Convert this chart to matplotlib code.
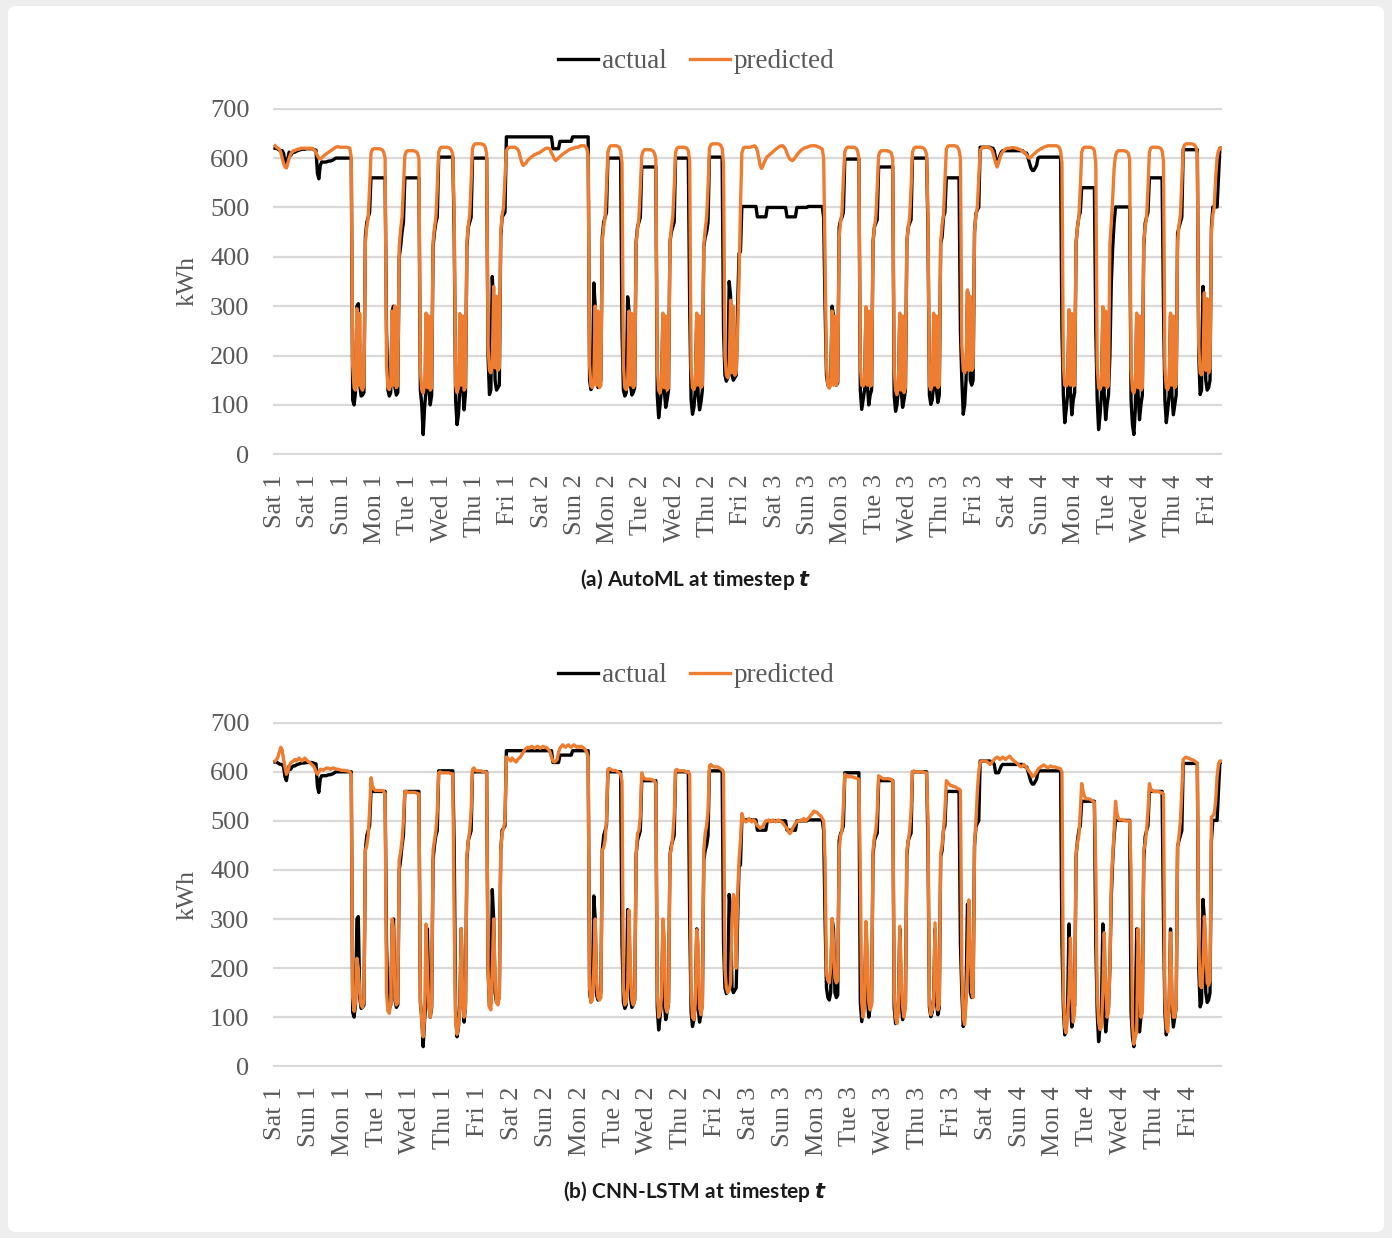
import matplotlib.pyplot as plt
import numpy as np
from matplotlib.patches import FancyBboxPatch

# hourly load, 28 days (Sat 1 .. Fri 4), one row = one day
actual_kwh = [
    620, 620, 618, 616, 615, 615, 610, 590, 582, 600, 612, 605, 610, 612, 612, 614, 615, 616, 617, 618, 618, 618, 619, 619,  # Sat 1
    619, 619, 619, 618, 617, 616, 570, 558, 585, 592, 592, 592, 592, 593, 594, 594, 595, 596, 598, 600, 600, 600, 600, 600,  # Sun 1
    600, 600, 600, 600, 600, 600, 600, 110, 100, 125, 300, 305, 140, 118, 120, 125, 440, 470, 480, 490, 560, 560, 560, 560,  # Mon 1
    560, 560, 560, 560, 560, 560, 560, 250, 130, 118, 125, 290, 300, 135, 120, 125, 400, 420, 450, 470, 560, 560, 560, 560,  # Tue 1
    560, 560, 560, 560, 560, 560, 560, 130, 100, 40, 95, 130, 280, 135, 100, 120, 420, 450, 470, 480, 602, 602, 602, 602,  # Wed 1
    602, 602, 602, 602, 602, 602, 602, 450, 110, 60, 80, 130, 280, 140, 90, 125, 420, 460, 470, 480, 600, 600, 600, 600,  # Thu 1
    600, 600, 600, 600, 600, 600, 600, 200, 121, 130, 360, 300, 150, 130, 135, 140, 440, 481, 485, 490, 643, 643, 643, 643,  # Fri 1
    643, 643, 643, 643, 643, 643, 643, 643, 643, 643, 643, 643, 643, 643, 643, 643, 643, 643, 643, 643, 643, 643, 643, 643,  # Sat 2
    643, 643, 643, 643, 643, 619, 619, 619, 619, 619, 634, 634, 634, 634, 634, 634, 634, 634, 634, 643, 643, 643, 643, 643,  # Sun 2
    643, 643, 643, 643, 643, 643, 643, 150, 131, 140, 347, 300, 145, 135, 140, 150, 440, 470, 480, 490, 600, 600, 600, 600,  # Mon 2
    600, 600, 600, 600, 600, 600, 250, 130, 118, 125, 319, 290, 140, 120, 125, 135, 430, 460, 470, 480, 582, 582, 582, 582,  # Tue 2
    582, 582, 582, 582, 582, 582, 582, 120, 74, 100, 130, 280, 130, 95, 110, 130, 430, 450, 460, 470, 600, 600, 600, 600,  # Wed 2
    600, 600, 600, 600, 600, 600, 300, 110, 81, 95, 130, 280, 120, 90, 105, 130, 420, 440, 450, 470, 602, 602, 602, 602,  # Thu 2
    602, 602, 602, 602, 602, 602, 250, 160, 148, 155, 350, 320, 160, 150, 155, 160, 300, 407, 410, 502, 502, 502, 502, 502,  # Fri 2
    502, 502, 502, 502, 502, 502, 481, 481, 481, 481, 481, 481, 481, 500, 500, 500, 500, 500, 500, 500, 500, 500, 500, 500,  # Sat 3
    500, 500, 500, 481, 481, 481, 481, 481, 481, 481, 500, 500, 500, 500, 500, 500, 500, 500, 502, 502, 502, 502, 502, 502,  # Sun 3
    502, 502, 502, 502, 502, 480, 300, 160, 140, 135, 150, 300, 280, 150, 140, 145, 460, 474, 480, 490, 598, 598, 598, 598,  # Mon 3
    598, 598, 598, 598, 598, 598, 598, 130, 91, 110, 130, 290, 140, 100, 120, 130, 430, 460, 468, 475, 582, 582, 582, 582,  # Tue 3
    582, 582, 582, 582, 582, 582, 582, 120, 87, 100, 130, 280, 130, 95, 110, 130, 430, 460, 468, 475, 600, 600, 600, 600,  # Wed 3
    600, 600, 600, 600, 600, 600, 600, 450, 120, 101, 110, 140, 280, 130, 105, 120, 427, 440, 481, 490, 560, 560, 560, 560,  # Thu 3
    560, 560, 560, 560, 560, 560, 250, 150, 81, 100, 151, 330, 300, 150, 140, 150, 450, 488, 495, 500, 622, 622, 622, 622,  # Fri 3
    622, 622, 622, 622, 620, 620, 615, 598, 598, 598, 605, 612, 615, 615, 615, 615, 615, 615, 615, 615, 615, 615, 615, 615,  # Sat 4
    615, 615, 615, 612, 610, 610, 600, 590, 580, 575, 575, 580, 585, 600, 602, 602, 602, 602, 602, 602, 602, 602, 602, 602,  # Sun 4
    602, 602, 602, 602, 602, 602, 250, 120, 64, 90, 120, 290, 130, 80, 110, 125, 427, 460, 481, 490, 540, 540, 540, 540,  # Mon 4
    540, 540, 540, 540, 540, 540, 250, 110, 50, 80, 120, 290, 120, 70, 100, 120, 200, 347, 420, 470, 501, 501, 501, 501,  # Tue 4
    501, 501, 501, 501, 501, 501, 501, 110, 60, 40, 90, 280, 120, 70, 100, 120, 420, 468, 480, 490, 560, 560, 560, 560,  # Wed 4
    560, 560, 560, 560, 560, 560, 300, 110, 64, 90, 120, 280, 120, 80, 100, 120, 448, 460, 470, 480, 617, 617, 617, 617,  # Thu 4
    617, 617, 617, 617, 617, 617, 617, 200, 121, 130, 340, 300, 150, 130, 135, 150, 460, 501, 501, 501, 501, 560, 620, 620,  # Fri 4
]

automl_pred = [
    625, 622, 620, 618, 612, 600, 590, 582, 580, 590, 600, 608, 612, 615, 615, 617, 618, 618, 620, 620, 620, 620, 620, 620,
    620, 620, 620, 618, 616, 612, 605, 600, 598, 600, 603, 606, 608, 610, 612, 614, 616, 618, 620, 622, 623, 623, 622, 622,
    622, 622, 622, 622, 621, 620, 600, 180, 135, 130, 295, 140, 285, 135, 130, 140, 430, 460, 480, 540, 610, 618, 619, 619,
    619, 619, 619, 618, 617, 612, 600, 180, 135, 131, 140, 290, 140, 300, 135, 140, 420, 455, 480, 540, 605, 613, 615, 615,
    615, 615, 615, 614, 613, 610, 598, 170, 130, 124, 140, 286, 135, 280, 130, 135, 430, 460, 480, 540, 612, 620, 622, 622,
    622, 622, 622, 621, 620, 616, 608, 480, 140, 125, 135, 285, 140, 280, 130, 135, 430, 465, 485, 550, 620, 627, 629, 629,
    629, 629, 629, 628, 627, 622, 610, 220, 170, 165, 180, 340, 175, 320, 170, 175, 450, 485, 500, 560, 615, 620, 622, 622,
    622, 622, 622, 620, 618, 612, 600, 590, 585, 588, 590, 595, 598, 600, 603, 605, 607, 608, 610, 610, 612, 614, 616, 618,
    620, 620, 620, 618, 610, 605, 598, 595, 598, 600, 603, 606, 608, 610, 612, 614, 616, 618, 618, 620, 620, 622, 622, 622,
    624, 625, 625, 625, 624, 620, 605, 180, 138, 135, 145, 300, 140, 290, 135, 140, 430, 460, 480, 540, 612, 622, 625, 625,
    625, 625, 625, 624, 622, 615, 590, 180, 135, 131, 140, 290, 140, 285, 135, 140, 425, 455, 480, 540, 605, 614, 617, 617,
    617, 617, 617, 616, 614, 610, 598, 175, 130, 124, 140, 286, 135, 280, 130, 135, 430, 460, 480, 540, 612, 620, 622, 622,
    622, 622, 622, 621, 620, 615, 595, 175, 135, 131, 140, 286, 140, 280, 135, 140, 425, 455, 480, 540, 620, 627, 629, 629,
    629, 629, 629, 628, 626, 620, 590, 200, 160, 155, 165, 312, 165, 300, 160, 165, 250, 350, 500, 610, 620, 622, 622, 622,
    622, 622, 623, 624, 625, 622, 615, 600, 585, 579, 585, 592, 598, 603, 605, 608, 610, 613, 615, 618, 620, 622, 624, 625,
    625, 622, 618, 610, 603, 598, 596, 595, 598, 602, 606, 610, 613, 616, 618, 620, 621, 622, 623, 624, 625, 625, 625, 625,
    624, 623, 622, 620, 618, 600, 400, 180, 140, 134, 140, 290, 140, 280, 140, 150, 440, 470, 490, 560, 612, 620, 622, 622,
    622, 622, 622, 621, 620, 615, 600, 180, 140, 138, 145, 299, 140, 290, 138, 140, 430, 460, 480, 540, 605, 613, 615, 615,
    615, 615, 615, 614, 613, 610, 598, 175, 130, 121, 135, 286, 130, 280, 125, 135, 430, 460, 480, 540, 612, 620, 622, 622,
    622, 622, 622, 621, 620, 616, 608, 480, 140, 131, 140, 286, 140, 280, 135, 140, 430, 465, 485, 550, 618, 624, 625, 625,
    625, 625, 625, 624, 622, 616, 600, 220, 170, 165, 175, 333, 170, 320, 170, 175, 450, 485, 500, 560, 615, 620, 622, 622,
    622, 622, 622, 620, 618, 612, 600, 590, 582, 590, 600, 608, 613, 616, 618, 620, 620, 620, 621, 621, 621, 620, 620, 618,
    618, 616, 614, 612, 610, 606, 602, 600, 602, 605, 608, 610, 613, 615, 617, 619, 620, 622, 623, 624, 625, 625, 625, 625,
    625, 625, 625, 624, 622, 615, 590, 180, 140, 138, 145, 293, 140, 285, 138, 140, 430, 460, 480, 540, 612, 620, 622, 622,
    622, 622, 622, 621, 620, 615, 590, 180, 135, 131, 140, 299, 140, 290, 135, 140, 425, 470, 520, 580, 605, 613, 615, 615,
    615, 615, 615, 614, 613, 610, 598, 175, 130, 124, 140, 286, 135, 280, 130, 135, 430, 460, 480, 540, 612, 620, 622, 622,
    622, 622, 622, 621, 620, 615, 595, 175, 135, 131, 140, 286, 140, 280, 135, 140, 430, 465, 485, 550, 620, 627, 629, 629,
    629, 629, 629, 628, 627, 622, 610, 220, 165, 161, 175, 327, 170, 315, 165, 175, 450, 485, 500, 560, 600, 615, 619, 620,
]

cnnlstm_pred = [
    622, 625, 630, 640, 650, 645, 625, 610, 595, 600, 612, 618, 620, 622, 625, 622, 625, 628, 625, 622, 625, 628, 625, 622,
    620, 618, 615, 612, 608, 600, 595, 600, 605, 605, 603, 605, 607, 608, 607, 605, 606, 608, 607, 606, 605, 605, 604, 603,
    603, 603, 602, 602, 601, 600, 595, 140, 112, 130, 220, 200, 150, 125, 120, 135, 440, 450, 470, 520, 588, 572, 565, 562,
    562, 562, 562, 562, 562, 560, 555, 150, 112, 108, 130, 300, 280, 140, 125, 130, 420, 436, 460, 500, 560, 560, 558, 558,
    558, 558, 558, 558, 557, 556, 555, 140, 90, 60, 100, 290, 200, 120, 100, 125, 440, 460, 480, 520, 598, 600, 598, 598,
    598, 598, 598, 598, 597, 596, 596, 300, 90, 65, 80, 120, 280, 140, 100, 120, 430, 460, 480, 520, 605, 608, 603, 602,
    602, 602, 602, 601, 600, 600, 598, 200, 121, 115, 200, 300, 180, 130, 125, 140, 440, 475, 485, 500, 630, 628, 625, 622,
    628, 625, 622, 620, 625, 628, 630, 635, 640, 645, 648, 650, 648, 650, 652, 650, 648, 650, 652, 650, 648, 650, 652, 650,
    650, 648, 645, 640, 630, 622, 620, 622, 625, 640, 648, 652, 655, 652, 650, 653, 655, 652, 650, 653, 655, 652, 650, 652,
    650, 652, 650, 648, 645, 640, 630, 160, 130, 135, 200, 300, 170, 140, 135, 140, 440, 445, 460, 500, 605, 607, 605, 603,
    603, 603, 602, 600, 598, 595, 580, 160, 125, 130, 160, 318, 200, 135, 125, 135, 430, 475, 480, 510, 598, 590, 586, 585,
    585, 585, 585, 584, 583, 582, 575, 150, 100, 110, 140, 300, 260, 120, 110, 130, 430, 443, 470, 510, 603, 605, 602, 602,
    602, 602, 602, 601, 600, 600, 595, 150, 100, 95, 130, 278, 250, 120, 105, 125, 440, 475, 490, 520, 612, 615, 612, 610,
    610, 610, 610, 608, 606, 604, 600, 200, 160, 150, 155, 170, 300, 350, 340, 200, 350, 420, 460, 515, 505, 500, 498, 500,
    505, 500, 498, 502, 500, 495, 490, 488, 485, 487, 490, 495, 500, 500, 502, 498, 500, 502, 500, 498, 500, 502, 500, 498,
    496, 492, 488, 485, 478, 474, 478, 485, 490, 495, 498, 500, 500, 502, 500, 505, 500, 502, 505, 508, 512, 515, 520, 518,
    518, 515, 512, 510, 505, 500, 420, 190, 175, 170, 200, 300, 250, 180, 170, 175, 440, 470, 480, 530, 595, 592, 590, 590,
    590, 590, 589, 588, 587, 586, 585, 400, 130, 100, 120, 295, 240, 130, 115, 125, 440, 467, 480, 520, 592, 590, 588, 586,
    586, 586, 586, 586, 585, 585, 580, 150, 100, 87, 110, 285, 200, 120, 100, 120, 440, 460, 480, 520, 600, 602, 600, 600,
    600, 600, 600, 600, 599, 598, 598, 500, 130, 105, 115, 130, 292, 200, 115, 125, 434, 450, 480, 520, 582, 578, 575, 572,
    572, 570, 570, 568, 566, 565, 562, 200, 100, 85, 130, 200, 339, 250, 150, 140, 450, 500, 560, 600, 620, 622, 622, 622,
    622, 620, 618, 615, 618, 622, 625, 628, 630, 628, 625, 627, 630, 628, 625, 628, 630, 632, 628, 625, 622, 620, 618, 615,
    612, 610, 612, 615, 612, 608, 604, 600, 596, 590, 592, 595, 600, 605, 608, 610, 612, 614, 612, 610, 608, 610, 612, 610,
    610, 610, 609, 608, 607, 606, 600, 150, 80, 68, 100, 150, 261, 150, 90, 110, 434, 455, 470, 520, 576, 560, 550, 545,
    545, 545, 544, 542, 540, 538, 400, 150, 90, 75, 80, 150, 272, 180, 100, 110, 200, 373, 430, 480, 540, 515, 505, 502,
    502, 502, 501, 500, 500, 500, 500, 400, 90, 45, 60, 70, 280, 200, 100, 110, 440, 455, 480, 520, 576, 565, 562, 560,
    560, 560, 560, 559, 558, 557, 555, 140, 80, 70, 120, 272, 150, 100, 100, 120, 446, 470, 500, 560, 625, 628, 630, 628,
    628, 626, 625, 624, 622, 620, 618, 250, 165, 160, 200, 305, 250, 170, 165, 175, 508, 510, 515, 540, 590, 615, 622, 622,
]

weekdays = ["Sat", "Sun", "Mon", "Tue", "Wed", "Thu", "Fri"]
labels_b = [f"{d} {w}" for w in range(1, 5) for d in weekdays]
labels_a = ["Sat 1"] + labels_b   # panel (a) repeats the first label
yticks = [0, 100, 200, 300, 400, 500, 600, 700]

hours = np.arange(len(actual_kwh))
ticks_b = np.arange(len(labels_b)) * 24
ticks_a = np.arange(len(labels_a)) * 23.62

GRAY = '#595959'
ORANGE = '#ED7D31'
SERIF = 'Liberation Serif'

fig = plt.figure(figsize=(13.92, 12.38), dpi=100, facecolor='#eeeeee')
card = FancyBboxPatch((8 / 1392, 6 / 1238), 1376 / 1392, 1226 / 1238,
                      boxstyle='round,pad=0,rounding_size=0.006',
                      transform=fig.transFigure, facecolor='white',
                      edgecolor='none', zorder=-10)
fig.patches.append(card)


def draw_panel(rect, pred, labels, ticks, caption, legend_y, caption_y):
    ax = fig.add_axes(rect)
    ax.set_facecolor('none')
    ax.plot(hours, actual_kwh, color='black', lw=2.4, label='actual')
    ax.plot(hours, pred, color=ORANGE, lw=2.4, label='predicted')
    ax.set_xlim(-1.5, len(hours) - 0.5)
    ax.set_ylim(-1.5, 701.5)
    ax.set_yticks(yticks)
    ax.set_yticklabels([str(v) for v in yticks], family=SERIF, fontsize=19, color=GRAY)
    ax.set_xticks(ticks)
    ax.set_xticklabels(labels, rotation=90, family=SERIF, fontsize=19, color=GRAY)
    ax.tick_params(length=0, pad=14)
    ax.tick_params(axis='y', pad=17)
    ax.grid(axis='y', color='#d9d9d9', lw=1.6)
    ax.set_axisbelow(True)
    for s in ax.spines.values():
        s.set_visible(False)
    ax.set_ylabel('kWh', family=SERIF, fontsize=18.5, color=GRAY, labelpad=8)
    ax.legend(loc='center', bbox_to_anchor=(0.5, legend_y), bbox_transform=fig.transFigure,
              ncol=2, frameon=False, handlelength=1.5, handletextpad=0.12,
              columnspacing=0.85, prop={'family': SERIF, 'size': 19.5},
              labelcolor=GRAY)
    fig.text(0.4995, caption_y, caption, ha='center', va='center',
             family='Lato', fontweight='bold', fontsize=15, color='#1a1a1a')
    return ax


draw_panel([273 / 1392, 1 - 455 / 1238, 949 / 1392, 347 / 1238], automl_pred,
           labels_a, ticks_a, r'(a) AutoML at timestep $\boldsymbol{t}$', 1 - 62 / 1238, 1 - 579 / 1238)
draw_panel([273 / 1392, 1 - 1067 / 1238, 949 / 1392, 345 / 1238], cnnlstm_pred,
           labels_b, ticks_b, r'(b) CNN-LSTM at timestep $\boldsymbol{t}$', 1 - 676 / 1238, 1 - 1192 / 1238)

fig.savefig('out.png', dpi=100, facecolor=fig.get_facecolor())
